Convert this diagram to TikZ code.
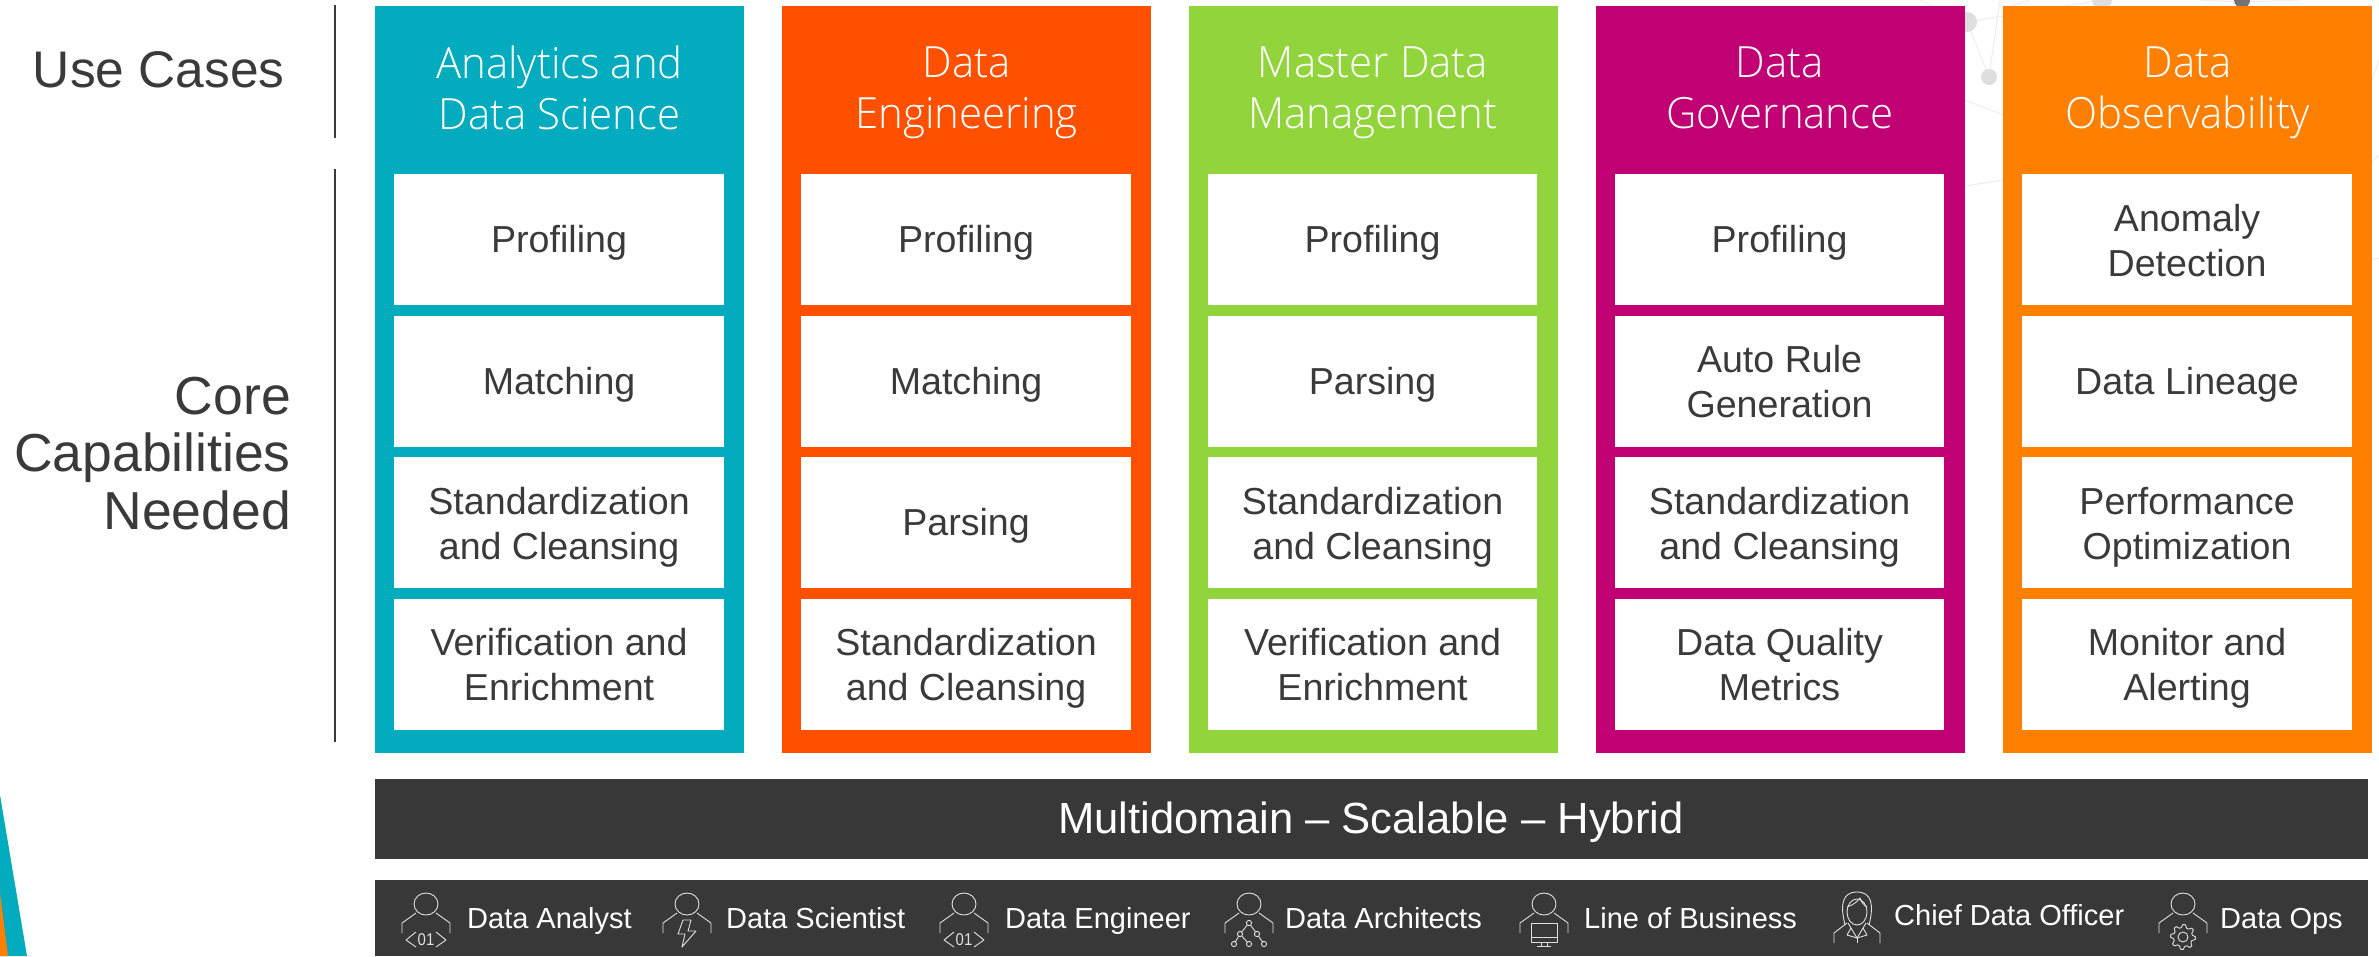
\documentclass[tikz,border=0pt]{standalone}
\usepackage{fontspec}
\setmainfont{Liberation Sans}
\newfontfamily\lightf[FakeStretch=0.975]{Open Sans Light}
\newfontfamily\condf[FakeStretch=0.88]{Liberation Sans}
\definecolor{ink}{HTML}{3A3A3A}
\definecolor{bar}{HTML}{383838}
\definecolor{cteal}{HTML}{02ABBD}
\definecolor{cred}{HTML}{FF5000}
\definecolor{cgreen}{HTML}{92D43C}
\definecolor{cmag}{HTML}{C00073}
\definecolor{corange}{HTML}{FF7F00}
\definecolor{icon}{HTML}{E0E0E0}
\newcommand{\cstrutA}{\rule[-9pt]{0pt}{44pt}}
\newcommand{\cstrutB}{\rule[-10pt]{0pt}{51pt}}
\newcommand{\Lft}{\rule{0pt}{37pt}}
\tikzset{
  x=1pt,y=-1pt,
  colbox/.style={rectangle,inner sep=0pt,minimum width=369pt,minimum height=747pt,anchor=north west},
  cell/.style={rectangle,fill=white,inner sep=0pt,minimum width=329.3pt,minimum height=131pt,anchor=north west,
     align=center,text=ink,font=\fontsize{37.6}{44.7}\selectfont,
     execute at begin node=\cstrutA,execute at end node=\cstrutA},
  headt/.style={inner sep=0pt,text=white,align=center,anchor=center,font=\lightf\fontsize{43}{51}\selectfont,
     execute at begin node=\cstrutB,execute at end node=\cstrutB},
  side/.style={inner sep=0pt,text=ink},
  barbox/.style={rectangle,fill=bar,inner sep=0pt,anchor=north west,minimum width=1993pt},
  who/.style={inner sep=0pt,text=white,anchor=base west,font=\fontsize{29}{30}\selectfont},
  ic/.style={draw=icon,line width=0.9pt,line join=round},
  net/.style={draw=black!7,line width=1pt},
  dot/.style={fill=black!13}
}
\newcommand{\person}[1]{%
  \draw[ic] (#1,904) ellipse (12 and 11);
  \draw[ic] (#1-10,913) -- (#1-24,923) -- (#1-24,933);
  \draw[ic] (#1+10,913) -- (#1+24,923) -- (#1+24,933);
}
\newcommand{\codeglyph}[1]{%
  \draw[ic] (#1-10,932) -- (#1-20,940) -- (#1-10,947);
  \draw[ic] (#1+10,932) -- (#1+20,940) -- (#1+10,947);
  \node[inner sep=0pt,text=icon,font=\condf\fontsize{17}{17}\selectfont] at (#1,940) {01};
}
\newcommand{\mkcol}[6]{% x, colour, c1..c4
  \node[colbox,fill=#2] at (#1,6) {};
  \node[cell] at (#1+19.2,174) {#3};
  \node[cell] at (#1+19.2,315.3) {#4};
  \node[cell] at (#1+19.2,457) {#5};
  \node[cell] at (#1+19.2,598.5) {#6};
}
\begin{document}
\begin{tikzpicture}
\useasboundingbox (0,0) rectangle (2379,956);
\fill[white] (0,0) rectangle (2379,956);
% faint network
\draw[net] (1967,22) -- (1989,77) -- (2000,0);
\draw[net] (1967,22) -- (2102,0);
\draw[net] (1965,100) -- (2003,115);
\draw[net] (1965,186) -- (2003,180);
\draw[net] (2372,80) -- (2379,60);
\draw[net] (2372,162) -- (2379,155);
\draw[net] (2372,260) -- (2379,258);
\draw[net] (1920,0) -- (1967,22);
\draw[net] (2030,0) -- (2010,6);
\draw[net] (2200,0) -- (2242,2) -- (2300,0);
\fill[dot] (1967,22) circle (10);
\fill[dot] (1989,77) circle (8);
\fill[dot] (2102,0) circle (10);
\fill[black!55] (2242,0) circle (8);
% decorative corner
\fill[cteal] (0,795) -- (27,956) -- (0,956) -- cycle;
\fill[corange] (0,893) -- (8,956) -- (0,956) -- cycle;
% side rules and labels
\coordinate (ruleA) at (335,5);
\coordinate (ruleB) at (335,138);
\coordinate (ruleC) at (335,169);
\coordinate (ruleD) at (335,742);
\draw[ink,line width=2.4pt] (ruleA) -- (ruleB);
\draw[ink,line width=2.4pt] (ruleC) -- (ruleD);
\node[side,anchor=base east,font=\fontsize{51.5}{57.6}\selectfont] (usecases) at (285,87) {Use Cases};
\node[side,anchor=east,align=right,font=\fontsize{53.5}{57.6}\selectfont] (core) at (291,453.5) {Core\\Capabilities\\Needed};
% columns
\mkcol{375}{cteal}{Profiling}{Matching}{\Lft Standardization\\and Cleansing}{\Lft Verification and\\Enrichment}
\mkcol{782}{cred}{Profiling}{Matching}{Parsing}{\Lft Standardization\\and Cleansing}
\mkcol{1188.5}{cgreen}{Profiling}{Parsing}{\Lft Standardization\\and Cleansing}{\Lft Verification and\\Enrichment}
\mkcol{1595.5}{cmag}{Profiling}{\Lft Auto Rule\\Generation}{\Lft Standardization\\and Cleansing}{\Lft Data Quality\\Metrics}
\mkcol{2003}{corange}{\Lft Anomaly\\Detection}{Data Lineage}{\Lft Performance\\Optimization}{\Lft Monitor and\\Alerting}
\node[headt] (h1) at (559.5,92.5) {Analytics and\\Data Science};
\node[headt] (h2) at (966.5,92.5) {Data\\Engineering};
\node[headt] (h3) at (1373,92.5) {Master Data\\Management};
\node[headt] (h4) at (1780,92.5) {Data\\Governance};
\node[headt] (h5) at (2187.5,92.5) {Data\\Observability};
% bars
\node[barbox,minimum height=80pt] (multi) at (375,779) {};
\node[inner sep=0pt,text=white,font=\fontsize{43.6}{44}\selectfont] (mtext) at (1371,822.5) {Multidomain – Scalable – Hybrid};
\node[barbox,minimum height=76pt] (people) at (375,880) {};
% people
\person{426}\codeglyph{426}
\node[who] (w1) at (467,928) {Data Analyst};
\person{687}
\draw[ic] (683,920) -- (691,920) -- (688,931) -- (696,931) -- (682,947) -- (685,934) -- (678,934) -- cycle;
\node[who] (w2) at (726,928) {Data Scientist};
\person{964}\codeglyph{964}
\node[who] (w3) at (1005,928) {Data Engineer};
\person{1249}
\draw[ic] (1249,923) -- (1240,934) -- (1234,944);
\draw[ic] (1240,934) -- (1249,944);
\draw[ic] (1249,923) -- (1257,934) -- (1264,944);
\foreach \p/\q in {1249/923,1240/934,1257/934,1234/944,1249/944,1264/944}{
  \filldraw[ic,fill=bar] (\p,\q) circle (2.6);
}
\node[who] (w4) at (1285,928) {Data Architects};
\person{1544}
\draw[ic,fill=bar] (1531,923) rectangle (1557,942);
\draw[ic] (1531,937) -- (1557,937);
\draw[ic] (1541,942) -- (1541,946) (1547,942) -- (1547,946) (1537,946) -- (1551,946);
\node[who] (w5) at (1584,928) {Line of Business};
% chief data officer icon
\draw[ic] (1857,912) ellipse (10 and 13);
\draw[ic] (1845,925) .. controls (1840,905) and (1842,892) .. (1857,892) .. controls (1872,892) and (1874,905) .. (1869,925);
\draw[ic] (1847,907) .. controls (1853,905) and (1857,902) .. (1860,898) .. controls (1861,902) and (1864,905) .. (1867,907);
\draw[ic] (1847,923) -- (1834,933) -- (1834,943);
\draw[ic] (1867,923) -- (1880,933) -- (1880,943);
\draw[ic] (1848,923) -- (1857,938) -- (1866,923);
\draw[ic] (1851,928) -- (1847,935) -- (1857,938) -- (1867,935) -- (1863,928);
\draw[ic] (1857,938) -- (1857,943);
\node[who] (w6) at (1894,925) {Chief Data Officer};
% data ops icon
\person{2183}
\draw[ic,fill=bar] plot[samples at={0,11.25,...,348.75}] ({2183+(9.5+3*(mod(\x,45)<22))*cos(\x)},{937+(9.5+3*(mod(\x,45)<22))*sin(\x)}) -- cycle;
\draw[ic] (2183,937) circle (5);
\node[who] (w7) at (2220,928) {Data Ops};
\end{tikzpicture}
\end{document}
